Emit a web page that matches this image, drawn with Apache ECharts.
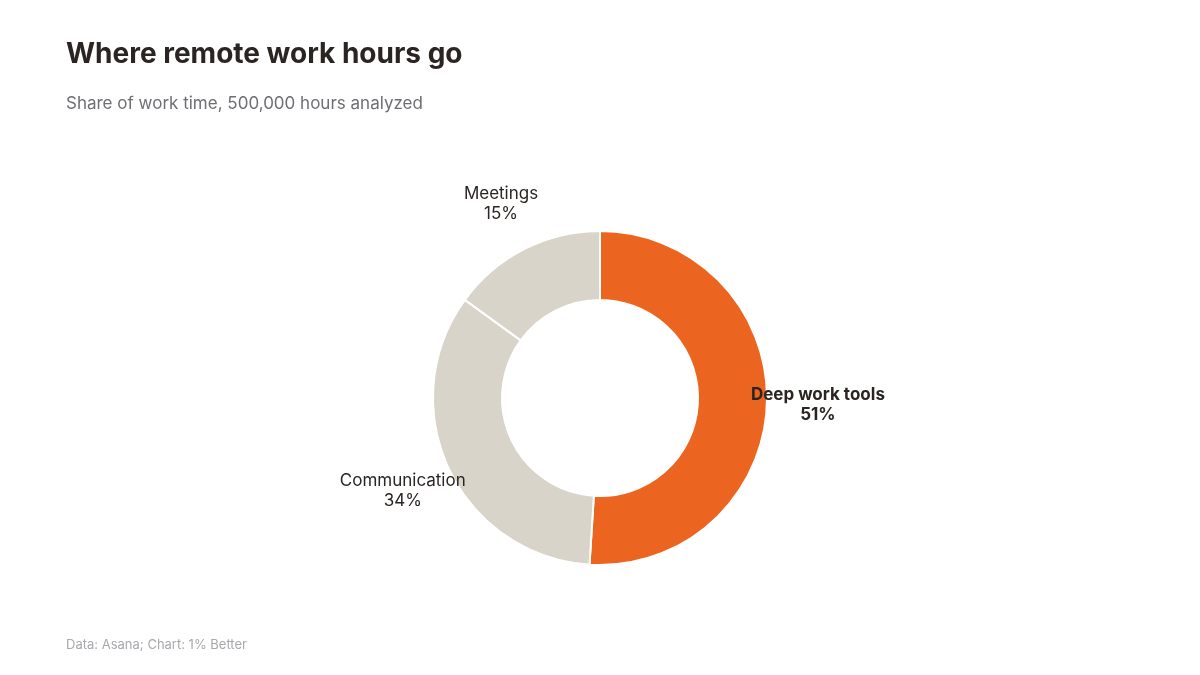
<!DOCTYPE html>
<html><head><meta charset="utf-8">
<script src="https://cdn.jsdelivr.net/npm/echarts@6/dist/echarts.min.js"></script>
<style>html,body{margin:0;background:#fff}#c{width:1200px;height:675px}</style>
</head><body><div id="c"></div>
<script>
const categories = ["Deep work tools", "Communication", "Meetings"];
const values = [51, 34, 15];
const colors = ["#EC6520", "#D9D4CA", "#D9D4CA"];
const font = "Inter, 'Noto Sans', sans-serif";
const data = categories.map((n, i) => ({name: n, value: values[i], itemStyle: {color: colors[i]}}));
const chart = echarts.init(document.getElementById('c'));
chart.setOption({
  animation: false,
  graphic: [
    {type:'text', left:66, top:41, style:{text:'Where remote work hours go', font:'bold 28px '+font, fill:'#2a2522'}},
    {type:'text', left:66, top:95, style:{text:'Share of work time, 500,000 hours analyzed', font:'17px '+font, fill:'#6e6e73'}},
    {type:'text', left:66, top:639, style:{text:'Data: Asana; Chart: 1% Better', font:'13px '+font, fill:'#a8a8ad'}}
  ],
  series: [
    {type:'pie', center:[600,398], radius:[98,167], startAngle:90, clockwise:true, silent:true,
     itemStyle:{borderColor:'#fff', borderWidth:2}, label:{show:false}, labelLine:{show:false}, data: data},
    {type:'pie', center:[600,398], radius:[214,216], startAngle:90, clockwise:true, silent:true,
     itemStyle:{color:'transparent'},
     label:{show:true, position:'inside', formatter:'{b}\n{c}%', fontFamily:font, fontSize:17, color:'#2a2522', lineHeight:20,
       rich:{}},
     labelLine:{show:false},
     data: data.map((d,i)=>({name:d.name, value:d.value, itemStyle:{color:'transparent'},
       label: i===0 ? {fontWeight:'bold'} : {}}))}
  ]
});
</script></body></html>
